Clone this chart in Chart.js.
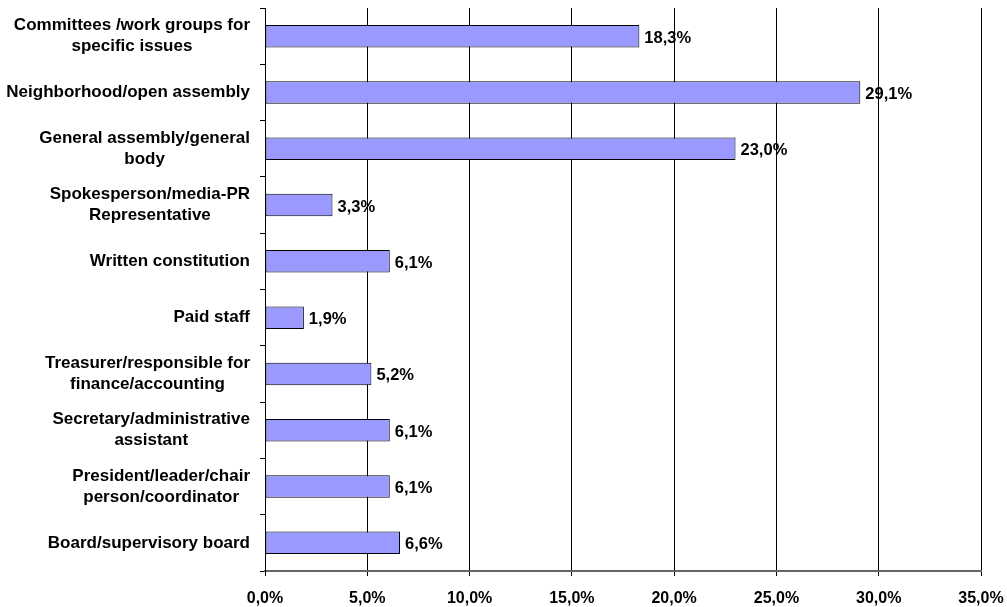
<!DOCTYPE html>
<html>
<head>
<meta charset="utf-8">
<script src="https://cdn.jsdelivr.net/npm/chart.js@4/dist/chart.umd.min.js"></script>
<style>
  html, body { margin: 0; padding: 0; background: #fff; }
  #wrap { width: 1007px; height: 607px; }
</style>
</head>
<body>
<div id="wrap"><canvas id="orgChart"></canvas></div>
<script>
const categories = [
    ['Committees /work groups for', 'specific issues'],
    ['Neighborhood/open assembly'],
    ['General assembly/general', 'body'],
    ['Spokesperson/media-PR', 'Representative'],
    ['Written constitution'],
    ['Paid staff'],
    ['Treasurer/responsible for', 'finance/accounting'],
    ['Secretary/administrative', 'assistant'],
    ['President/leader/chair', 'person/coordinator'],
    ['Board/supervisory board']
];
const shares = [18.3, 29.1, 23.0, 3.3, 6.1, 1.9, 5.2, 6.1, 6.1, 6.6];
const axisMax = 35;
const axisStep = 5;

const FAMILY = '"Liberation Sans", Arial, sans-serif';
const LABEL_FONT = 'bold 17px ' + FAMILY;
const VALUE_FONT = 'bold 16.5px ' + FAMILY;

function pct(v) {
    return v.toFixed(1).replace('.', ',') + '%';
}

// category labels: block right-aligned, lines centred inside the block
const categoryLabels = {
    id: 'categoryLabels',
    afterDraw(chart) {
        const ctx = chart.ctx;
        const yScale = chart.scales.y;
        const right = chart.chartArea.left - 15;
        const lineH = 21;
        ctx.save();
        ctx.font = LABEL_FONT;
        ctx.fillStyle = '#000';
        ctx.textAlign = 'center';
        ctx.textBaseline = 'middle';
        categories.forEach((lines, i) => {
            const w = Math.max(...lines.map(l => ctx.measureText(l).width));
            const cx = right - w / 2;
            const cy = yScale.getPixelForValue(i);
            const start = cy - (lines.length - 1) * lineH / 2;
            lines.forEach((l, k) => ctx.fillText(l, cx, start + k * lineH));
        });
        ctx.restore();
    }
};

// value labels at the end of each bar
const valueLabels = {
    id: 'valueLabels',
    afterDatasetsDraw(chart) {
        const ctx = chart.ctx;
        const meta = chart.getDatasetMeta(0);
        ctx.save();
        ctx.font = VALUE_FONT;
        ctx.fillStyle = '#000';
        ctx.textAlign = 'left';
        ctx.textBaseline = 'middle';
        meta.data.forEach((bar, i) => {
            ctx.fillText(pct(shares[i]), bar.x + 5, bar.y + 2);
        });
        ctx.restore();
    }
};

const ctx = document.getElementById('orgChart').getContext('2d');
new Chart(ctx, {
    type: 'bar',
    data: {
        labels: categories.map(l => l.join(' ')),
        datasets: [{
            data: shares,
            backgroundColor: '#9999FF',
            borderColor: '#000',
            borderWidth: 1,
            borderSkipped: false,
            barPercentage: 0.4,
            categoryPercentage: 1
        }]
    },
    options: {
        indexAxis: 'y',
        responsive: true,
        maintainAspectRatio: false,
        animation: false,
        layout: { padding: { top: 8, right: 0, bottom: 0, left: 0 } },
        plugins: {
            legend: { display: false },
            tooltip: { enabled: false }
        },
        scales: {
            x: {
                min: 0,
                max: axisMax,
                ticks: {
                    stepSize: axisStep,
                    callback: v => pct(v),
                    font: { family: FAMILY, size: 16, weight: 'bold' },
                    color: '#000',
                    padding: 13
                },
                grid: { color: '#000', lineWidth: 1, tickLength: 5 },
                border: { color: '#666', width: 2 },
                afterFit(scale) {
                    scale.height = 36;
                    scale.paddingLeft = 0;
                    scale.paddingRight = 26;
                }
            },
            y: {
                ticks: { display: false },
                grid: {
                    offset: true,
                    drawOnChartArea: false,
                    color: '#000',
                    tickLength: 5
                },
                border: { color: '#000', width: 1 },
                afterFit(scale) { scale.width = 265; }
            }
        }
    },
    plugins: [categoryLabels, valueLabels]
});
</script>
</body>
</html>
